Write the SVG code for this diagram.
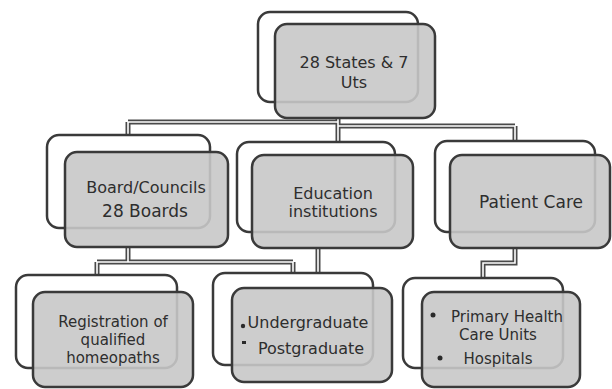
<svg xmlns="http://www.w3.org/2000/svg" width="612" height="389" viewBox="0 0 612 389">
<style>
.back{fill:#ffffff;stroke:#3a3a3a;stroke-width:2.5}
.front{fill:#c8c8c8;fill-opacity:0.9;stroke:#3a3a3a;stroke-width:2.5}
.c1{fill:none;stroke:#4a4a4a;stroke-width:5}
.c2{fill:none;stroke:#ffffff;stroke-width:1.6}
text{font-family:"DejaVu Sans","Liberation Sans",Arial,sans-serif;fill:#2e2e2e;text-anchor:middle}
.t15{font-size:15px}
.t16{font-size:16px}
.t17{font-size:17px}
.b{fill:#2a2a2a}
</style>
<rect width="612" height="389" fill="#ffffff"/>
<g id="connectors">
<path class="c1" d="M338,118 V124 M128,122 H338 M338,126 H515 M128,122 V135 M338,124 V142 M515,126 V141 M128,247 V262 M97,262 H293 M97,262 V275 M293,262 V273 M318,248 V273 M515,248 V263 H483 V278"/>
<path class="c2" d="M338,118 V124 M128,122 H338 M338,126 H515 M128,122 V135 M338,124 V142 M515,126 V141 M128,247 V262 M97,262 H293 M97,262 V275 M293,262 V273 M318,248 V273 M515,248 V263 H483 V278"/>
</g>
<g id="n-states">
<rect class="back" x="258" y="12" width="160" height="90" rx="12"/>
<rect class="front" x="275" y="24" width="160" height="94" rx="12"/>
<text class="t16" x="354" y="68">28 States &amp; 7</text>
<text class="t16" x="354" y="88">Uts</text>
</g>
<g id="n-board">
<rect class="back" x="47" y="135" width="163" height="93" rx="12"/>
<rect class="front" x="65" y="152" width="163" height="95" rx="12"/>
<text class="t16" x="146" y="193">Board/Councils</text>
<text class="t17" x="145" y="217">28 Boards</text>
</g>
<g id="n-edu">
<rect class="back" x="237" y="142" width="158" height="90" rx="12"/>
<rect class="front" x="252" y="155" width="161" height="93" rx="12"/>
<text class="t16" x="333" y="199">Education</text>
<text class="t16" x="333" y="217">institutions</text>
</g>
<g id="n-patient">
<rect class="back" x="435" y="141" width="160" height="91" rx="12"/>
<rect class="front" x="450" y="155" width="160" height="93" rx="12"/>
<text class="t17" x="531" y="208">Patient Care</text>
</g>
<g id="n-reg">
<rect class="back" x="16" y="275" width="161" height="93" rx="12"/>
<rect class="front" x="33" y="292" width="160" height="95" rx="12"/>
<text class="t15" x="113" y="327">Registration of</text>
<text class="t15" x="113" y="345">qualified</text>
<text class="t15" x="113" y="363">homeopaths</text>
</g>
<g id="n-ug">
<rect class="back" x="213" y="273" width="160" height="92" rx="12"/>
<rect class="front" x="232" y="288" width="160" height="94" rx="12"/>
<circle class="b" cx="243" cy="326" r="2.2"/>
<text class="t16" x="308" y="328">Undergraduate</text>
<rect class="b" x="242" y="341" width="4" height="3"/>
<text class="t16" x="311" y="354">Postgraduate</text>
</g>
<g id="n-phc">
<rect class="back" x="403" y="278" width="160" height="90" rx="12"/>
<rect class="front" x="422" y="292" width="158" height="95" rx="12"/>
<circle class="b" cx="433" cy="315" r="2.5"/>
<text class="t15" x="507" y="322">Primary Health</text>
<text class="t15" x="498" y="340">Care Units</text>
<circle class="b" cx="440" cy="358" r="2.5"/>
<text class="t15" x="498" y="364">Hospitals</text>
</g>
</svg>
